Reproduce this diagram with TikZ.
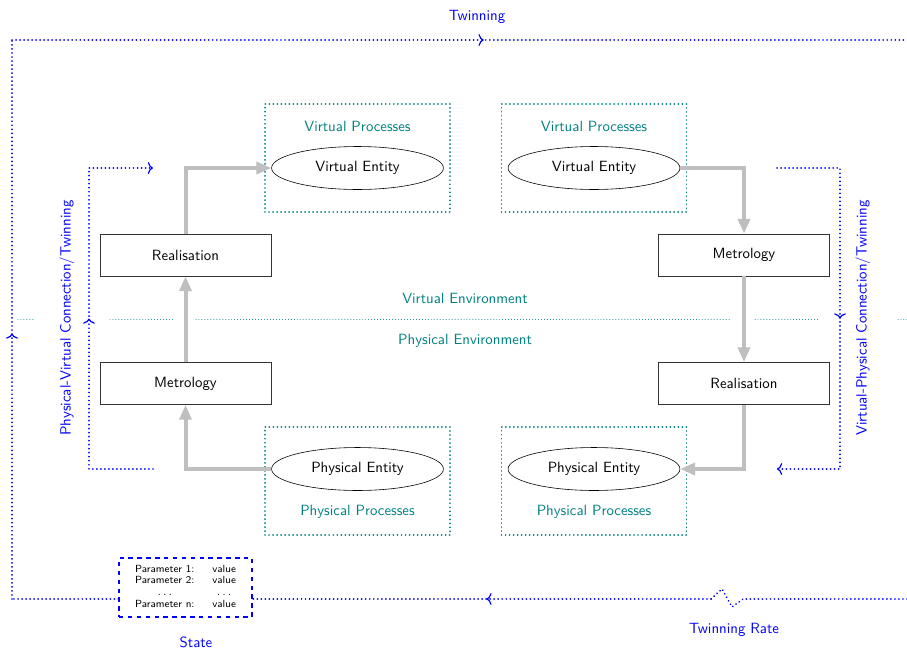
\documentclass[tikz,border=0pt]{standalone}
\usetikzlibrary{arrows.meta,decorations.markings,shapes.geometric}
\begin{document}
\begin{tikzpicture}[x=0.675pt,y=-0.675pt,font=\sffamily,
  >={To[length=3.5pt,width=8pt]},
  boxnode/.style={draw=black!80, minimum width=115.4pt, minimum height=28.4pt, inner sep=0pt},
  entnode/.style={ellipse, draw, minimum width=116pt, minimum height=29pt, inner sep=0pt},
  procnode/.style={draw=teal, line width=1.3pt, line cap=round, dash pattern=on 0.01pt off 2.7pt, minimum width=124.9pt, minimum height=72.9pt, inner sep=0pt},
  flow/.style={line width=2.7pt, draw=black!25, -{Triangle[length=10pt,width=8pt]}},
  twin/.style={blue, line width=1.3pt, line cap=round, dash pattern=on 0.01pt off 2.7pt},
  envline/.style={teal, line width=0.65pt, line cap=round, dash pattern=on 0.01pt off 2pt},
  tealtext/.style={text=teal},
  bluetext/.style={text=blue},
  midarr/.style={postaction={decorate,decoration={markings,mark=at position #1 with {\arrow[solid,line width=0.8pt]{>}}}}}
]
\useasboundingbox (0,0) rectangle (907,648);

% process containers
\node[procnode] (vp1) at (357.5,158) {};
\node[procnode] (vp2) at (594,158) {};
\node[procnode] (pp1) at (357.5,481) {};
\node[procnode] (pp2) at (594,481) {};
\node[tealtext] (vpl1) at (357.5,126) {Virtual Processes};
\node[tealtext] (vpl2) at (594,126) {Virtual Processes};
\node[tealtext] (ppl1) at (357.5,512) {Physical Processes};
\node[tealtext] (ppl2) at (594,512) {Physical Processes};

% entities
\node[entnode] (ve1) at (357.5,168) {Virtual Entity};
\node[entnode] (ve2) at (594,168) {Virtual Entity};
\node[entnode] (pe1) at (357.5,469) {Physical Entity};
\node[entnode] (pe2) at (594,469) {Physical Entity};

% steps
\node[boxnode] (real1) at (185.5,255) {Realisation};
\node[boxnode] (met1) at (185.5,383.5) {Metrology};
\node[boxnode] (met2) at (744,255) {Metrology};
\node[boxnode] (real2) at (744,383.5) {Realisation};

% environment divider
\draw[envline] (18,319) -- (35,319);
\draw[envline] (110,319) -- (175,319);
\draw[envline] (196,319) -- (731,319);
\draw[envline] (755,319) -- (820,319);
\draw[envline] (898,319) -- (907,319);
\node[tealtext] (venv) at (465,298) {Virtual Environment};
\node[tealtext] (penv) at (465,341) {Physical Environment};

% flows
\draw[flow] (pe1.west) -| (met1.south);
\draw[flow] (met1.north) -- (real1.south);
\draw[flow] (real1.north) |- (ve1.west);
\draw[flow] (ve2.east) -| (met2.north);
\draw[flow] (met2.south) -- (real2.north);
\draw[flow] (real2.south) |- (pe2.east);

% inner twinning connections
\coordinate (pvs) at (153,469);
\coordinate (pve) at (153,168);
\draw[twin, -{To[length=3.5pt,width=8pt,line width=0.8pt]}, midarr=0.5] (pvs) -- (89,469) -- (89,168) -- (pve);
\node[bluetext, rotate=90] (pvl) at (67,318) {Physical-Virtual Connection/Twinning};
\coordinate (vps) at (777,168);
\coordinate (vpe) at (777,469);
\draw[twin, -{To[length=3.5pt,width=8pt,line width=0.8pt]}, midarr=0.5] (vps) -- (840,168) -- (840,469) -- (vpe);
\node[bluetext, rotate=90] (vpl) at (863,318) {Virtual-Physical Connection/Twinning};

% state
\node[draw=blue, thick, dashed, minimum width=89.8pt, minimum height=39.8pt, inner sep=0pt] (state) at (185.5,587.5)
  {\scriptsize\begin{tabular}{@{}cc@{}}Parameter 1: & value\\ Parameter 2: & value\\ $\ldots$ & $\ldots$\\ Parameter n: & value\end{tabular}};
\node[bluetext] (statel) at (196,642) {State};

% outer twinning loop
\coordinate (br) at (907,599);
\coordinate (tr) at (907,40);
\coordinate (zz) at (711,599);
\coordinate (bl) at (12,599);
\coordinate (tl) at (12,40);
\draw[twin] (br) -- (743,599) -- (732,607) -- (722,589) -- (zz);
\draw[twin, midarr=0.49] (zz) -- (zz -| state.east);
\draw[twin] (bl -| state.west) -- (bl);
\draw[twin, midarr=0.475] (bl) -- (tl);
\draw[twin, midarr=0.527] (tl) -- (tr);
\node[bluetext] (twl) at (477,17) {Twinning};
\node[bluetext] (trl) at (734,630) {Twinning Rate};
\end{tikzpicture}
\end{document}
